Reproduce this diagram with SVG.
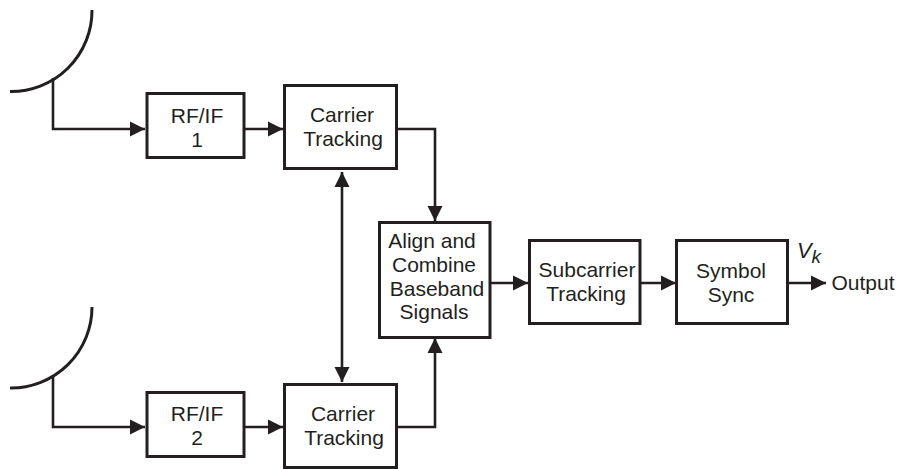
<svg xmlns="http://www.w3.org/2000/svg" width="900" height="469" viewBox="0 0 900 469">
<style>
.box{fill:#fff;stroke:#231f20;stroke-width:3}
.wire{fill:none;stroke:#231f20;stroke-width:2.6}
.dish{fill:none;stroke:#231f20;stroke-width:3}
text{font-family:"Liberation Sans",Arial,sans-serif;font-size:21px;fill:#231f20;text-anchor:middle}
</style>
<defs>
<marker id="a" markerUnits="userSpaceOnUse" markerWidth="16" markerHeight="16" refX="15" refY="8" orient="auto-start-reverse"><path d="M0 0.500L15 8L0 15.500Z" fill="#231f20"/></marker>
</defs>
<rect width="900" height="469" fill="#fff"/>
<g id="connectors">
<path class="dish" d="M92 10A81 81 0 0 1 10 91.500"/>
<path class="dish" d="M92 307A81 81 0 0 1 10 388"/>
<path class="wire" marker-end="url(#a)" d="M53 78V129H145"/>
<path class="wire" marker-end="url(#a)" d="M53 375V427H145"/>
<path class="wire" marker-end="url(#a)" d="M245 129H283"/>
<path class="wire" marker-end="url(#a)" d="M245 427H283"/>
<path class="wire" marker-end="url(#a)" d="M397 129H435V221"/>
<path class="wire" marker-end="url(#a)" d="M397 427H435V338"/>
<path class="wire" marker-start="url(#a)" marker-end="url(#a)" d="M342 172V382"/>
<path class="wire" marker-end="url(#a)" d="M491 283H528"/>
<path class="wire" marker-end="url(#a)" d="M640 283H676"/>
<path class="wire" marker-end="url(#a)" d="M789 283H826"/>
</g>
<g id="rf1"><rect class="box" x="147" y="93.500" width="97" height="64"/><text x="197" y="123">RF/IF</text><text x="197" y="147">1</text></g>
<g id="rf2"><rect class="box" x="147" y="392.500" width="97" height="64"/><text x="197" y="421">RF/IF</text><text x="197" y="445">2</text></g>
<g id="carrier1"><rect class="box" x="284.500" y="85.500" width="112" height="83"/><text x="342" y="122">Carrier</text><text x="343" y="146">Tracking</text></g>
<g id="carrier2"><rect class="box" x="284.500" y="384.500" width="112" height="83"/><text x="343" y="421">Carrier</text><text x="344" y="445">Tracking</text></g>
<g id="combine"><rect class="box" x="379.500" y="222.500" width="110.500" height="115"/><text x="432" y="248">Align and</text><text x="434" y="272">Combine</text><text x="437" y="296">Baseband</text><text x="434" y="319">Signals</text></g>
<g id="subcarrier"><rect class="box" x="529.500" y="240.500" width="110.500" height="83"/><text x="587" y="277">Subcarrier</text><text x="586" y="301">Tracking</text></g>
<g id="symbol"><rect class="box" x="676.500" y="240.500" width="111" height="83"/><text x="731" y="278">Symbol</text><text x="731" y="302">Sync</text></g>
<g id="output"><text x="809" y="258" style="font-style:italic;font-size:22px">V<tspan dy="5" font-size="19">k</tspan></text><text x="863" y="290">Output</text></g>
</svg>
